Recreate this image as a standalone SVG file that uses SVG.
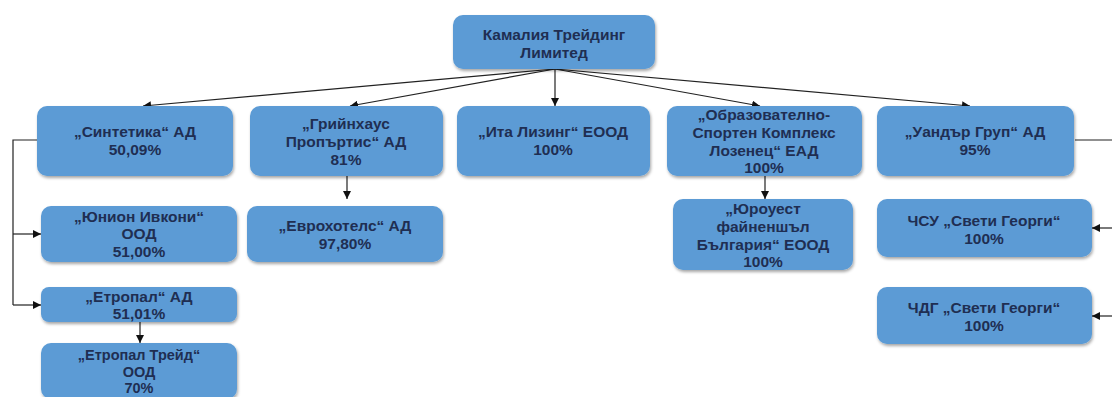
<svg xmlns="http://www.w3.org/2000/svg" width="1112" height="397" viewBox="0 0 1112 397">
<defs>
<filter id="sh" x="-10%" y="-10%" width="120%" height="130%">
<feDropShadow dx="1" dy="2" stdDeviation="1.6" flood-color="#000" flood-opacity="0.35"/>
</filter>
<marker id="ah" viewBox="0 0 10 10" refX="10" refY="5" markerWidth="8" markerHeight="8" markerUnits="userSpaceOnUse" orient="auto">
<path d="M0,0 L10,5 L0,10 z" fill="#111"/>
</marker>
</defs>
<style>
.box{fill:#5b9bd5;filter:url(#sh)}
.t{font-family:"Liberation Sans","Noto Sans","DejaVu Sans",sans-serif;font-weight:bold;font-size:15.5px;fill:#1f2e52;text-anchor:middle;dominant-baseline:central}
.s{font-size:14.5px}
.c{fill:none;stroke:#222;stroke-width:1.2}
.a{marker-end:url(#ah)}
</style>
<rect width="1112" height="397" fill="#fff"/>
<g id="connectors">
<path class="c a" d="M555,69 L143,106"/>
<path class="c a" d="M555,69 L350,106"/>
<path class="c a" d="M555,69 L555,106"/>
<path class="c a" d="M555,69 L760,106"/>
<path class="c a" d="M555,69 L970,106"/>
<path class="c" d="M37,140 L13,140 L13,305"/>
<path class="c a" d="M13,234 L41,234"/>
<path class="c a" d="M13,305 L41,305"/>
<path class="c a" d="M347,176 L347,199"/>
<path class="c a" d="M765,176 L765,199"/>
<path class="c a" d="M140,322 L140,343"/>
<path class="c" d="M1075,140 L1112,140"/>
<path class="c a" d="M1112,228 L1092,228"/>
<path class="c a" d="M1112,316 L1092,316"/>
</g>
<g id="n-kamalia"><rect class="box" x="453" y="15" width="202" height="54" rx="10"/>
<text class="t" x="554" y="34">Камалия Трейдинг</text><text class="t" x="554" y="52">Лимитед</text></g>
<g id="n-sintetika"><rect class="box" x="37" y="106" width="196" height="70" rx="10"/>
<text class="t" x="135" y="131">„Синтетика“ АД</text><text class="t" x="135" y="149">50,09%</text></g>
<g id="n-greenhouse"><rect class="box" x="250" y="106" width="193" height="70" rx="10"/>
<text class="t" x="346" y="123">„Грийнхаус</text><text class="t" x="346" y="141">Пропъртис“ АД</text><text class="t" x="346" y="159">81%</text></g>
<g id="n-ita"><rect class="box" x="457" y="106" width="193" height="70" rx="10"/>
<text class="t" x="553" y="131">„Ита Лизинг“ ЕООД</text><text class="t" x="553" y="149">100%</text></g>
<g id="n-obrazovatelno"><rect class="box" x="667" y="106" width="195" height="70" rx="10"/>
<text class="t" x="764" y="114.5">„Образователно-</text><text class="t" x="764" y="132.3">Спортен Комплекс</text><text class="t" x="764" y="150.1">Лозенец“ ЕАД</text><text class="t" x="764" y="167.9">100%</text></g>
<g id="n-wonder"><rect class="box" x="877" y="106" width="197" height="70" rx="10"/>
<text class="t" x="975" y="131">„Уандър Груп“ АД</text><text class="t" x="975" y="149">95%</text></g>
<g id="n-union"><rect class="box" x="41" y="206" width="196" height="56" rx="10"/>
<text class="t" x="139" y="216">„Юнион Ивкони“</text><text class="t" x="139" y="233.8">ООД</text><text class="t" x="139" y="251.6">51,00%</text></g>
<g id="n-eurohotels"><rect class="box" x="247" y="206" width="196" height="56" rx="10"/>
<text class="t" x="345" y="225">„Еврохотелс“ АД</text><text class="t" x="345" y="243">97,80%</text></g>
<g id="n-etropal"><rect class="box" x="41" y="287" width="196" height="35" rx="8"/>
<text class="t" x="139" y="296">„Етропал“ АД</text><text class="t" x="139" y="313.8">51,01%</text></g>
<g id="n-etropal-treid"><rect class="box" x="41" y="343" width="196" height="56" rx="10"/>
<text class="t s" x="139" y="355">„Етропал Трейд“</text><text class="t s" x="139" y="371.7">ООД</text><text class="t s" x="139" y="388.4">70%</text></g>
<g id="n-euroweset"><rect class="box" x="673" y="199" width="180" height="71" rx="10"/>
<text class="t" x="763" y="208.5">„Юроуест</text><text class="t" x="763" y="226.3">файненшъл</text><text class="t" x="763" y="244.1">България“ ЕООД</text><text class="t" x="763" y="261.9">100%</text></g>
<g id="n-chsu"><rect class="box" x="877" y="199" width="215" height="58" rx="10"/>
<text class="t" x="984" y="220">ЧСУ „Свети Георги“</text><text class="t" x="984" y="238">100%</text></g>
<g id="n-chdg"><rect class="box" x="877" y="287" width="215" height="57" rx="10"/>
<text class="t" x="984" y="307">ЧДГ „Свети Георги“</text><text class="t" x="984" y="325">100%</text></g>
</svg>
